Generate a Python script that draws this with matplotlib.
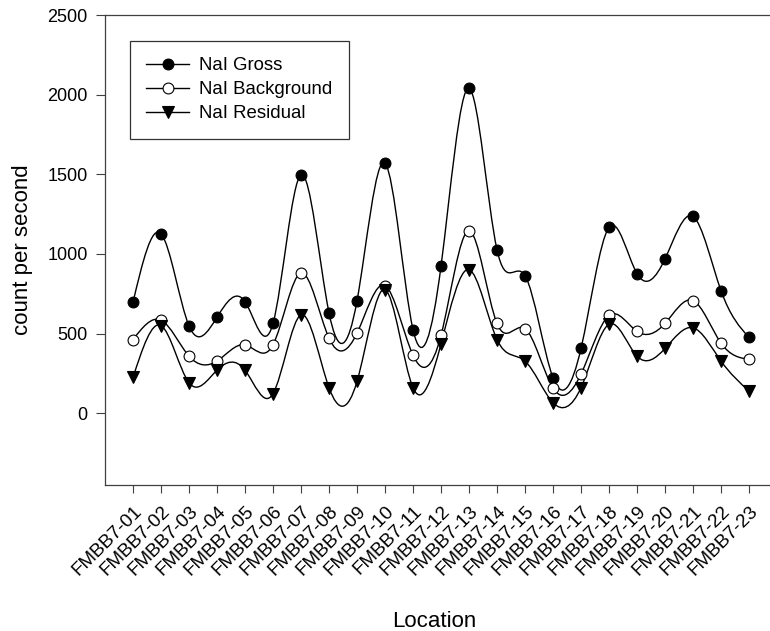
import numpy as np
import matplotlib
matplotlib.use('Agg')
import matplotlib.pyplot as plt
from matplotlib.path import Path
from matplotlib.patches import PathPatch
from matplotlib.lines import Line2D

plt.rcParams['font.family'] = ['Liberation Sans', 'DejaVu Sans']

locations = ['FMBB7-%02d' % i for i in range(1, 24)]
gross = [697, 1127, 549, 603, 701, 564, 1497, 631, 706, 1570, 526, 923,
         2040, 1027, 864, 223, 407, 1167, 877, 969, 1236, 770, 476]
background = [463, 585, 359, 328, 430, 430, 881, 472, 503, 802, 365, 489,
              1146, 564, 532, 159, 246, 614, 514, 564, 708, 441, 338]
residual = [225, 551, 192, 271, 271, 123, 618, 161, 200, 777, 161, 436,
            902, 463, 328, 67, 161, 559, 359, 407, 537, 328, 140]


def spline_path(x, y):
    # natural cubic spline through the points, written as bezier segments
    x = np.asarray(x, float)
    y = np.asarray(y, float)
    n = len(y) - 1
    h = np.diff(x)
    A = np.zeros((n + 1, n + 1))
    b = np.zeros(n + 1)
    A[0, 0] = A[n, n] = 1.0
    for i in range(1, n):
        A[i, i - 1] = h[i - 1]
        A[i, i] = 2 * (h[i - 1] + h[i])
        A[i, i + 1] = h[i]
        b[i] = 6 * ((y[i + 1] - y[i]) / h[i] - (y[i] - y[i - 1]) / h[i - 1])
    M = np.linalg.solve(A, b)
    verts = [(x[0], y[0])]
    codes = [Path.MOVETO]
    for i in range(n):
        d = (y[i + 1] - y[i]) / h[i]
        m0 = d - h[i] * (2 * M[i] + M[i + 1]) / 6
        m1 = d + h[i] * (M[i] + 2 * M[i + 1]) / 6
        verts += [(x[i] + h[i] / 3, y[i] + m0 * h[i] / 3),
                  (x[i + 1] - h[i] / 3, y[i + 1] - m1 * h[i] / 3),
                  (x[i + 1], y[i + 1])]
        codes += [Path.CURVE4] * 3
    return Path(verts, codes)


fig = plt.figure(figsize=(7.7, 6.31), dpi=100)
ax = fig.add_axes([105 / 770, 146 / 631, 672 / 770, 470 / 631])

xs = np.arange(1, len(locations) + 1)
series = [
    ('NaI Gross', gross, 'o', 'black'),
    ('NaI Background', background, 'o', 'white'),
    ('NaI Residual', residual, 'v', 'black'),
]
handles = []
for k, (name, vals, mk, fc) in enumerate(series):
    ms = 7.8 if mk == 'o' else 8.2
    ax.add_patch(PathPatch(spline_path(xs, vals), fill=False, edgecolor='black',
                           lw=1.0, zorder=2 + k * 0.1))
    ax.plot(xs, vals, linestyle='none', marker=mk, markersize=ms,
            markerfacecolor=fc, markeredgecolor='black', markeredgewidth=0.8,
            zorder=3 + k)
    handles.append(Line2D([], [], color='black', lw=1.0, marker=mk,
                          markersize=ms, markerfacecolor=fc,
                          markeredgecolor='black', markeredgewidth=0.8, label=name))

ax.set_xlim(0, 24)
ax.set_ylim(-450, 2500)
ax.set_yticks([0, 500, 1000, 1500, 2000, 2500])
ax.set_xticks(xs)
ax.set_xticklabels(locations, rotation=45, ha='right', va='top',
                   rotation_mode='anchor', fontsize=13.7)
ax.tick_params(axis='y', labelsize=13, direction='out', length=6.5, width=0.8,
               pad=6, color='#404040')
ax.tick_params(axis='x', direction='out', length=6, width=0.8, pad=7,
               color='#404040')

for s in ['left', 'bottom', 'top']:
    ax.spines[s].set_color('#404040')
    ax.spines[s].set_linewidth(0.9)
ax.spines['right'].set_visible(False)

fig.text(434 / 770, 4 / 631, 'Location', fontsize=16, ha='center', va='baseline')
fig.text(23 / 770, 381 / 631, 'count per second', fontsize=16, rotation=90,
         ha='center', va='center')

leg = ax.legend(handles=handles, loc='upper left',
                bbox_to_anchor=(130 / 770, 590 / 631), bbox_transform=fig.transFigure,
                borderaxespad=0, fontsize=13.4, frameon=True, fancybox=False,
                handlelength=2.3, handletextpad=0.55, borderpad=0.88,
                labelspacing=0.37)
leg.get_frame().set_edgecolor('black')
leg.get_frame().set_linewidth(0.9)

fig.savefig('out.png', dpi=100)
